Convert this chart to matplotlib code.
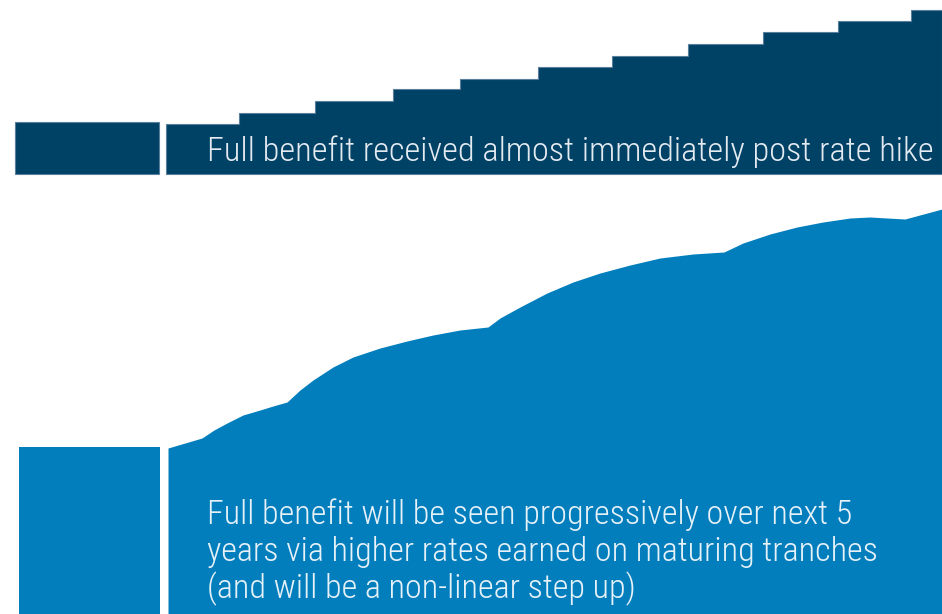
import matplotlib
matplotlib.use("Agg")
import matplotlib.pyplot as plt
from matplotlib import font_manager

# ---------------- data (pixel-scale units, y measured downward) ----------------
# Top panel: fixed-rate style benefit - step up
top_left_box = [15, 159, 122, 174]          # x0, x1, ytop, ybottom
top_step_edges = [166, 239, 315, 393, 460, 538, 612, 688, 763, 838, 911, 942]
top_step_tops = [124, 113, 101, 89, 79, 67, 56, 44, 32, 21, 10]
top_base = 174

# Bottom panel: progressive benefit curve (scalloped)
bot_left_box = [19, 160, 447, 614]
curve_x = [168, 202, 214, 227, 243, 260, 273, 287, 300, 313, 333, 353, 380, 407,
           433, 460, 488, 500, 520, 547, 573, 600, 630, 660, 693, 724, 743, 770,
           797, 823, 850, 870, 887, 905, 942]
curve_y = [448, 438, 430, 423, 415, 410, 406, 402, 390, 380, 367, 357, 348, 341,
           335, 330, 327, 318, 307, 293, 282, 273, 265, 258, 254, 252, 243, 234,
           227, 222, 218, 217, 218, 219, 209]
bot_base = 614

top_text = "Full benefit received almost immediately post rate hike"
bot_lines = ["Full benefit will be seen progressively over next 5",
             "years via higher rates earned on maturing tranches",
             "(and will be a non-linear step up)"]

NAVY = "#004166"
NAVY_EDGE = "#5a7f9c"
BLUE = "#027EBD"
TEXT_TOP = "#e3eaf0"
TEXT_BOT = "#e6f1f8"

# ---------------- fonts ----------------
available = {f.name for f in font_manager.fontManager.ttflist}
family = "DejaVu Sans"
weight = "normal"
for cand, w in [("Liberation Sans Narrow", "normal"), ("Roboto Condensed", "light"),
                ("Roboto", "light"), ("Lato", "light"), ("DejaVu Sans", "normal")]:
    if cand in available:
        family, weight = cand, w
        break

W, H = 942, 614
fig = plt.figure(figsize=(W / 100, H / 100), dpi=100)
ax = fig.add_axes([0, 0, 1, 1])
ax.set_xlim(0, W)
ax.set_ylim(H, 0)
ax.axis("off")

# top left box
x0, x1, yt, yb = top_left_box
ax.fill([x0, x1, x1, x0], [yb, yb, yt, yt], color=NAVY, lw=0.8, ec=NAVY_EDGE)

# top steps
sx, sy = [], []
for i, t in enumerate(top_step_tops):
    sx += [top_step_edges[i], top_step_edges[i + 1]]
    sy += [t, t]
px = [top_step_edges[0]] + sx + [top_step_edges[-1]]
py = [top_base] + sy + [top_base]
ax.fill(px, py, color=NAVY, lw=0.8, ec=NAVY_EDGE, joinstyle="miter")

# bottom left box
x0, x1, yt, yb = bot_left_box
ax.fill([x0, x1, x1, x0], [yb, yb, yt, yt], color=BLUE, lw=0)

# bottom curve area
ax.fill_between(curve_x, curve_y, bot_base, color=BLUE, lw=0)

# ---------------- text ----------------
renderer = fig.canvas.get_renderer()


def fitted_text(x, y, s, target_w, color):
    t = ax.text(x, y, s, color=color, family=family, weight=weight,
                fontsize=20, va="baseline", ha="left")
    w = t.get_window_extent(renderer).width
    t.set_fontsize(20 * target_w / w)
    return t


fitted_text(207, 161, top_text, 724, TEXT_TOP)
t2 = fitted_text(207, 561, bot_lines[1], 671, TEXT_BOT)
fs = t2.get_fontsize()
for s, yb in [(bot_lines[0], 524), (bot_lines[2], 598)]:
    ax.text(207, yb, s, color=TEXT_BOT, family=family, weight=weight,
            fontsize=fs, va="baseline", ha="left")

fig.savefig("out.png", dpi=100)
